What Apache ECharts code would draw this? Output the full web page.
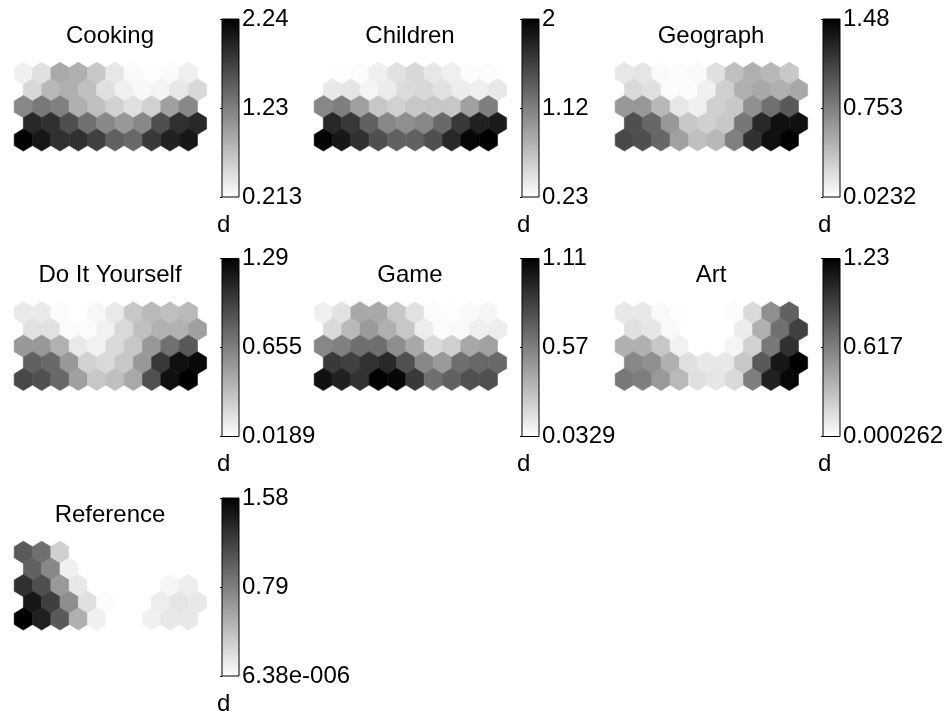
<!DOCTYPE html>
<html>
<head>
<meta charset="utf-8">
<script src="https://cdn.jsdelivr.net/npm/echarts@6/dist/echarts.min.js"></script>
<style>html,body{margin:0;padding:0;background:#fff}#c{width:949px;height:711px}</style>
</head>
<body>
<div id="c"></div>
<script>
// ---- data (rows top→bottom, 10 hexagon columns each; odd rows shifted half a cell right) ----
const panelTitles = ['Cooking', 'Children', 'Geograph', 'Do It Yourself', 'Game', 'Art', 'Reference'];
const rangeMin = [0.213, 0.23, 0.0232, 0.0189, 0.0329, 0.000262, 6.38e-6];
const rangeMax = [2.24, 2.0, 1.48, 1.29, 1.11, 1.23, 1.58];
const tickLabels = [
  ['0.213', '1.23', '2.24'],
  ['0.23', '1.12', '2'],
  ['0.0232', '0.753', '1.48'],
  ['0.0189', '0.655', '1.29'],
  ['0.0329', '0.57', '1.11'],
  ['0.000262', '0.617', '1.23'],
  ['6.38e-006', '0.79', '1.58']
];
const unitLabel = 'd';

const cooking = [
  [0.33, 0.46, 0.90, 0.84, 0.65, 0.40, 0.25, 0.23, 0.25, 0.33],
  [0.52, 0.78, 0.84, 0.72, 0.46, 0.33, 0.27, 0.30, 0.40, 0.52],
  [1.16, 1.29, 1.22, 0.84, 0.72, 0.58, 0.46, 0.58, 0.97, 1.16],
  [1.92, 1.86, 1.61, 1.35, 1.16, 1.03, 1.16, 1.61, 1.86, 1.92],
  [2.22, 2.06, 1.86, 1.86, 1.73, 1.48, 1.41, 1.79, 1.98, 2.06]
];
const children = [
  [0.23, 0.24, 0.25, 0.34, 0.44, 0.50, 0.40, 0.34, 0.25, 0.25],
  [0.39, 0.41, 0.30, 0.36, 0.48, 0.50, 0.44, 0.36, 0.34, 0.39],
  [1.06, 1.12, 0.89, 0.62, 0.55, 0.62, 0.62, 0.62, 0.89, 1.12],
  [1.72, 1.61, 1.33, 1.06, 1.01, 1.06, 1.27, 1.61, 1.77, 1.81],
  [1.97, 1.84, 1.66, 1.45, 1.33, 1.33, 1.45, 1.72, 1.96, 1.99]
];
const geograph = [
  [0.16, 0.17, 0.05, 0.04, 0.05, 0.20, 0.39, 0.48, 0.43, 0.34],
  [0.24, 0.20, 0.04, 0.04, 0.11, 0.29, 0.48, 0.52, 0.48, 0.52],
  [0.61, 0.61, 0.43, 0.16, 0.11, 0.29, 0.34, 0.66, 0.84, 0.97],
  [1.03, 0.89, 0.61, 0.34, 0.29, 0.34, 0.80, 1.25, 1.39, 1.39],
  [1.07, 1.03, 0.89, 0.56, 0.39, 0.43, 0.75, 1.20, 1.39, 1.47]
];
const doItYourself = [
  [0.13, 0.13, 0.04, 0.02, 0.06, 0.13, 0.30, 0.37, 0.34, 0.37],
  [0.17, 0.17, 0.04, 0.04, 0.09, 0.21, 0.34, 0.41, 0.41, 0.49],
  [0.53, 0.53, 0.41, 0.13, 0.09, 0.21, 0.30, 0.53, 0.73, 0.85],
  [0.81, 0.77, 0.53, 0.25, 0.21, 0.30, 0.53, 1.01, 1.21, 1.25],
  [0.93, 0.89, 0.77, 0.49, 0.30, 0.34, 0.45, 0.89, 1.21, 1.29]
];
const game = [
  [0.10, 0.16, 0.40, 0.40, 0.27, 0.16, 0.05, 0.04, 0.06, 0.07],
  [0.19, 0.33, 0.46, 0.37, 0.27, 0.11, 0.05, 0.06, 0.10, 0.11],
  [0.54, 0.57, 0.64, 0.64, 0.51, 0.40, 0.19, 0.23, 0.40, 0.43],
  [0.87, 0.84, 0.90, 0.94, 0.77, 0.54, 0.46, 0.64, 0.67, 0.67],
  [1.04, 0.97, 0.90, 1.10, 1.08, 0.87, 0.64, 0.70, 0.77, 0.77]
];
const art = [
  [0.11, 0.11, 0.03, 0.01, 0.00, 0.00, 0.02, 0.18, 0.54, 0.76],
  [0.15, 0.12, 0.03, 0.00, 0.00, 0.00, 0.09, 0.38, 0.69, 0.92],
  [0.38, 0.38, 0.27, 0.07, 0.00, 0.00, 0.05, 0.22, 0.65, 1.00],
  [0.58, 0.54, 0.38, 0.15, 0.11, 0.11, 0.27, 0.80, 1.12, 1.23],
  [0.65, 0.62, 0.49, 0.34, 0.15, 0.12, 0.18, 0.62, 1.07, 1.19]
];
const reference = [
  [1.03, 0.89, 0.29, 0, 0, 0, 0, 0, 0, 0],
  [0.98, 0.74, 0.09, 0, 0, 0, 0, 0, 0, 0],
  [1.28, 1.09, 0.63, 0.14, 0, 0, 0, 0, 0.06, 0.11],
  [1.44, 1.19, 0.70, 0.19, 0.02, 0, 0, 0.11, 0.16, 0.14],
  [1.58, 1.38, 1.03, 0.49, 0.09, 0, 0, 0.09, 0.14, 0.14]
];
const planes = [cooking, children, geograph, doItYourself, game, art, reference];

// ---- layout ----
const FONT = "'Liberation Sans', Arial, sans-serif";
const colX = [0, 300, 601];
const rowY = [0, 239.5, 479];
const ROWSTEP = 0.866;
const hexVerts = [[0, -0.5774], [0.5, -0.2887], [0.5, 0.2887], [0, 0.5774], [-0.5, 0.2887], [-0.5, -0.2887]];

const grids = [], xAxes = [], yAxes = [], series = [], visualMaps = [], graphics = [];

planes.forEach((plane, p) => {
  const ox = colX[p % 3], oy = rowY[Math.floor(p / 3)];
  const mn = rangeMin[p], mx = rangeMax[p];
  const gHex = grids.length;
  grids.push({left: 14.2 + ox, top: 62.2 + oy, width: 192.4, height: 88.9});
  xAxes.push({gridIndex: gHex, type: 'value', min: -0.5, max: 10, show: false});
  yAxes.push({gridIndex: gHex, type: 'value', min: -0.5774, max: 4 * ROWSTEP + 0.5774, inverse: true, show: false});
  const data = [];
  plane.forEach((row, r) => row.forEach((v, c) => data.push([c + (r % 2 ? 0.5 : 0), r * ROWSTEP, v])));
  const sIdx = series.length;
  series.push({
    type: 'custom', xAxisIndex: gHex, yAxisIndex: gHex, data: data,
    encode: {x: 0, y: 1}, silent: true,
    renderItem: function (params, api) {
      const cx = api.value(0), cy = api.value(1);
      const pts = hexVerts.map(v => api.coord([cx + v[0], cy + v[1]]));
      const col = api.visual('color');
      return {type: 'polygon', shape: {points: pts}, style: {fill: col, stroke: col, lineWidth: 0.6}};
    }
  });
  visualMaps.push({type: 'continuous', show: false, seriesIndex: sIdx, dimension: 2, min: mn, max: mx,
    inRange: {color: ['#ffffff', '#000000']}});

  // colorbar
  const gBar = grids.length;
  grids.push({left: 222 + ox, top: 19 + oy, width: 17, height: 178});
  const ticks = [mn, (mn + mx) / 2, mx];
  const labels = tickLabels[p];
  xAxes.push({gridIndex: gBar, type: 'value', min: 0, max: 1, show: false});
  yAxes.push({gridIndex: gBar, type: 'value', min: mn, max: mx, position: 'right',
    axisLine: {show: false}, splitLine: {show: false},
    axisTick: {show: true, inside: true, length: 2, customValues: ticks, lineStyle: {color: '#000'}},
    axisLabel: {show: true, margin: 3, customValues: ticks, color: '#000', fontSize: 24, fontFamily: FONT,
      formatter: function (val) {
        let best = 0;
        ticks.forEach((t, i) => { if (Math.abs(t - val) < Math.abs(ticks[best] - val)) best = i; });
        return labels[best];
      }}
  });
  series.push({
    type: 'custom', xAxisIndex: gBar, yAxisIndex: gBar, data: [[0, mn]], silent: true, clip: false,
    renderItem: function (params, api) {
      const a = api.coord([0, mx]), b = api.coord([1, mn]);
      return {type: 'rect', shape: {x: a[0], y: a[1], width: b[0] - a[0], height: b[1] - a[1]},
        style: {fill: new echarts.graphic.LinearGradient(0, 0, 0, 1, [{offset: 0, color: '#000'}, {offset: 1, color: '#fff'}]),
          stroke: '#000', lineWidth: 1}};
    }
  });

  graphics.push({type: 'text', x: 110 + ox, y: 36 + oy, silent: true,
    style: {text: panelTitles[p], font: '24px ' + FONT, fill: '#000', textAlign: 'center', textVerticalAlign: 'middle'}});
  graphics.push({type: 'text', x: 217 + ox, y: 213 + oy, silent: true,
    style: {text: unitLabel, font: '24px ' + FONT, fill: '#000', textAlign: 'left', textVerticalAlign: 'top'}});
});

const chart = echarts.init(document.getElementById('c'));
chart.setOption({
  backgroundColor: '#fff',
  animation: false,
  grid: grids, xAxis: xAxes, yAxis: yAxes, series: series, visualMap: visualMaps, graphic: graphics
});
</script>
</body>
</html>
